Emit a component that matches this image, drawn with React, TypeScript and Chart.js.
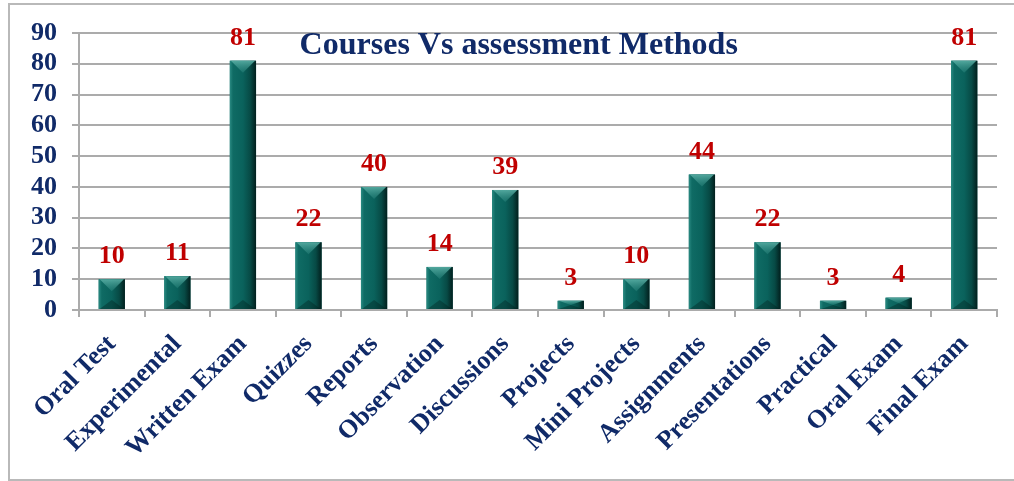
import React, { useEffect, useRef } from "react";
import { Chart, registerables } from "chart.js";

Chart.register(...registerables);

const categories = [
  "Oral Test",
  "Experimental",
  "Written Exam",
  "Quizzes",
  "Reports",
  "Observation",
  "Discussions",
  "Projects",
  "Mini Projects",
  "Assignments",
  "Presentations",
  "Practical",
  "Oral Exam",
  "Final Exam",
];
const counts = [10, 11, 81, 22, 40, 14, 39, 3, 10, 44, 22, 3, 4, 81];
const yTicks = [0, 10, 20, 30, 40, 50, 60, 70, 80, 90];
const titleText = "Courses Vs assessment Methods";

const SERIF = "'Times New Roman', 'Liberation Serif', serif";
const NAVY = "#102a68";
const RED = "#c00000";
const GRID = "#ababab";

const barStylePlugin = {
  id: "barStyle",
  afterDatasetsDraw(chart: any) {
    const ctx = chart.ctx;
    const meta = chart.getDatasetMeta(0);
    ctx.save();
    meta.data.forEach((el: any, i: number) => {
      const { x, y, base, width } = el.getProps(["x", "y", "base", "width"], true);
      const left = x - width / 2;
      const right = x + width / 2;
      const top = Math.min(y, base);
      const bottom = Math.max(y, base);
      const h = bottom - top;
      const g = ctx.createLinearGradient(left, 0, right, 0);
      g.addColorStop(0, "#2a8a82");
      g.addColorStop(0.12, "#0f6b64");
      g.addColorStop(0.5, "#0a625c");
      g.addColorStop(0.78, "#074a45");
      g.addColorStop(1, "#021f1d");
      ctx.fillStyle = g;
      ctx.fillRect(left, top, width, h);
      const d = Math.min(12, h / 2);
      const tg = ctx.createLinearGradient(0, top, 0, top + d);
      tg.addColorStop(0, "rgba(90,175,165,0.9)");
      tg.addColorStop(1, "rgba(40,130,122,0.5)");
      ctx.fillStyle = tg;
      ctx.beginPath();
      ctx.moveTo(left + 1, top);
      ctx.lineTo(right - 1, top);
      ctx.lineTo(x, top + d);
      ctx.closePath();
      ctx.fill();
      const bd = Math.min(9, h / 2);
      ctx.fillStyle = "rgba(0,25,22,0.35)";
      ctx.beginPath();
      ctx.moveTo(left + 1, bottom);
      ctx.lineTo(right - 1, bottom);
      ctx.lineTo(x, bottom - bd);
      ctx.closePath();
      ctx.fill();
      ctx.fillStyle = RED;
      ctx.font = `bold 26px ${SERIF}`;
      ctx.textAlign = "center";
      ctx.textBaseline = "alphabetic";
      ctx.fillText(String(counts[i]), x, top - 16);
    });
    ctx.restore();
  },
};

const titlePlugin = {
  id: "innerTitle",
  afterDraw(chart: any) {
    const { ctx, chartArea } = chart;
    ctx.save();
    ctx.fillStyle = NAVY;
    ctx.font = `bold 32px ${SERIF}`;
    ctx.textAlign = "center";
    ctx.textBaseline = "alphabetic";
    ctx.fillText(titleText, chartArea.left + chartArea.width * 0.479, chartArea.top + 21);
    ctx.restore();
  },
};

export default function App() {
  const ref = useRef<HTMLCanvasElement>(null);
  useEffect(() => {
    if (!ref.current) return;
    const chart = new Chart(ref.current, {
      type: "bar",
      data: {
        labels: categories,
        datasets: [
          {
            data: counts,
            backgroundColor: "#0b6660",
            borderWidth: 0,
            barPercentage: 0.4,
            categoryPercentage: 1,
          },
        ],
      },
      plugins: [barStylePlugin, titlePlugin],
      options: {
        responsive: false,
        animation: false,
        layout: { padding: { left: 0, top: 33, right: 17, bottom: 0 } },
        plugins: {
          legend: { display: false },
          title: { display: false },
          tooltip: { enabled: false },
        },
        scales: {
          x: {
            afterFit: (s: any) => {
              s.height = 171;
            },
            grid: {
              drawOnChartArea: false,
              drawTicks: true,
              tickLength: 7,
              color: GRID,
              lineWidth: 2,
              offset: true,
            },
            border: { display: true, color: GRID, width: 2 },
            ticks: {
              autoSkip: false,
              minRotation: 45,
              maxRotation: 45,
              padding: 12,
              color: NAVY,
              font: { family: SERIF, size: 26, weight: "bold" },
            },
          },
          y: {
            min: yTicks[0],
            max: yTicks[yTicks.length - 1],
            afterFit: (s: any) => {
              s.width = 79;
            },
            afterBuildTicks: (s: any) => {
              s.ticks = yTicks.map((v) => ({ value: v }));
            },
            grid: { color: GRID, lineWidth: 2, tickLength: 7, drawTicks: true },
            border: { display: true, color: GRID, width: 2 },
            ticks: {
              autoSkip: false,
              padding: 15,
              color: NAVY,
              font: { family: SERIF, size: 26, weight: "bold", lineHeight: 1 },
            },
          },
        },
      },
    });
    return () => chart.destroy();
  }, []);
  return (
    <div style={{ position: "absolute", left: 0, top: 0, width: 1014, height: 481, background: "#fff" }}>
      <div
        style={{
          position: "absolute",
          left: 8,
          top: 3,
          width: 1010,
          height: 474,
          border: "2px solid #b9b9b9",
        }}
      />
      <canvas ref={ref} width={1014} height={481} style={{ position: "absolute", left: 0, top: 0 }} />
    </div>
  );
}
